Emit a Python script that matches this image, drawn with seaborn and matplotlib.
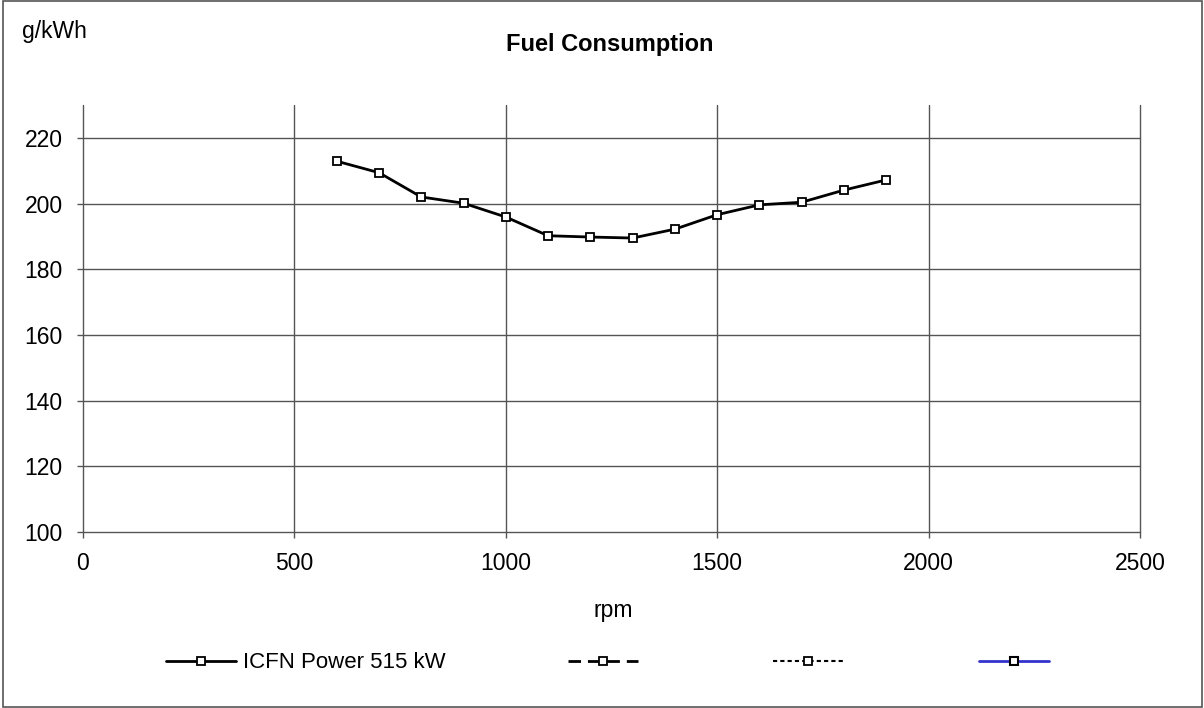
import pandas as pd
import seaborn as sns
import matplotlib.pyplot as plt
from matplotlib.patches import Rectangle

# Fuel consumption curve
rpm = [600, 700, 800, 900, 1000, 1100, 1200, 1300, 1400, 1500, 1600, 1700, 1800, 1900]
fuel = [212.9, 209.4, 202.0, 200.1, 195.9, 190.2, 189.8, 189.5, 192.2, 196.6, 199.6, 200.4, 204.1, 207.2]
series_name = "ICFN Power 515 kW"
x_ticks = [0, 500, 1000, 1500, 2000, 2500]
y_ticks = [100, 120, 140, 160, 180, 200, 220]

sns.set_style("white")
plt.rcParams['font.family'] = ['Liberation Sans', 'DejaVu Sans']
plt.rcParams['text.color'] = 'black'
plt.rcParams['xtick.color'] = 'black'
plt.rcParams['ytick.color'] = 'black'

data = pd.DataFrame({'rpm': rpm, 'fuel': fuel})

fig = plt.figure(figsize=(12.04, 7.08), dpi=100)
ax = fig.add_axes([83 / 1204, 1 - 532 / 708, (1140 - 83) / 1204, (532 - 105) / 708])

# outer frame around the whole chart
fig.patches.append(Rectangle((0.0025, 0.001), 0.996, 0.997, transform=fig.transFigure,
                             fill=False, edgecolor='#555555', linewidth=1.2))

sns.lineplot(data=data, x='rpm', y='fuel', ax=ax, color='black', linewidth=2,
             marker='s', markersize=5.5, markerfacecolor='white', markeredgecolor='black',
             markeredgewidth=1.3, label=series_name, zorder=3)

# empty series shown only in legend
ax.plot([], [], color='black', linewidth=2, dashes=(4.5, 2.5), marker='s', markersize=5.5,
        markerfacecolor='white', markeredgecolor='black', markeredgewidth=1.3, label=' ')
ax.plot([], [], color='black', linewidth=1.5, dashes=(2, 1.5), marker='s', markersize=5.5,
        markerfacecolor='white', markeredgecolor='black', markeredgewidth=1.3, label=' ')
ax.plot([], [], color='#3333cc', linewidth=2, marker='s', markersize=6,
        markerfacecolor='white', markeredgecolor='black', markeredgewidth=1.5, label=' ')

ax.set_xlim(0, 2500)
ax.set_ylim(100, 230)
ax.set_xticks(x_ticks)
ax.set_yticks(y_ticks)
ax.grid(True, color='#555555', linewidth=1)
for line in ax.get_xgridlines() + ax.get_ygridlines():
    line.set_clip_on(False)
for s in ax.spines.values():
    s.set_visible(False)
ax.tick_params(axis='both', labelsize=16.5, length=4.5, width=1, color='#555555',
               direction='out', bottom=True, left=True, pad=10)
ax.set_xlabel('')
ax.set_ylabel('')

fig.text(22 / 1204, 1 - 38 / 708, 'g/kWh', fontsize=16.5, ha='left', va='baseline')
fig.text(610 / 1204, 1 - 51 / 708, 'Fuel Consumption', fontsize=17, fontweight='bold',
         ha='center', va='baseline')
fig.text(613 / 1204, 1 - 610 / 708, 'rpm', fontsize=16.5, ha='center', va='center')

ax.legend(loc='center', bbox_to_anchor=(614 / 1204, 1 - 663 / 708), bbox_transform=fig.transFigure,
          ncol=4, frameon=False, fontsize=16, handlelength=3.15, handletextpad=0.31,
          columnspacing=5.5)

fig.savefig('out.png', dpi=100)
